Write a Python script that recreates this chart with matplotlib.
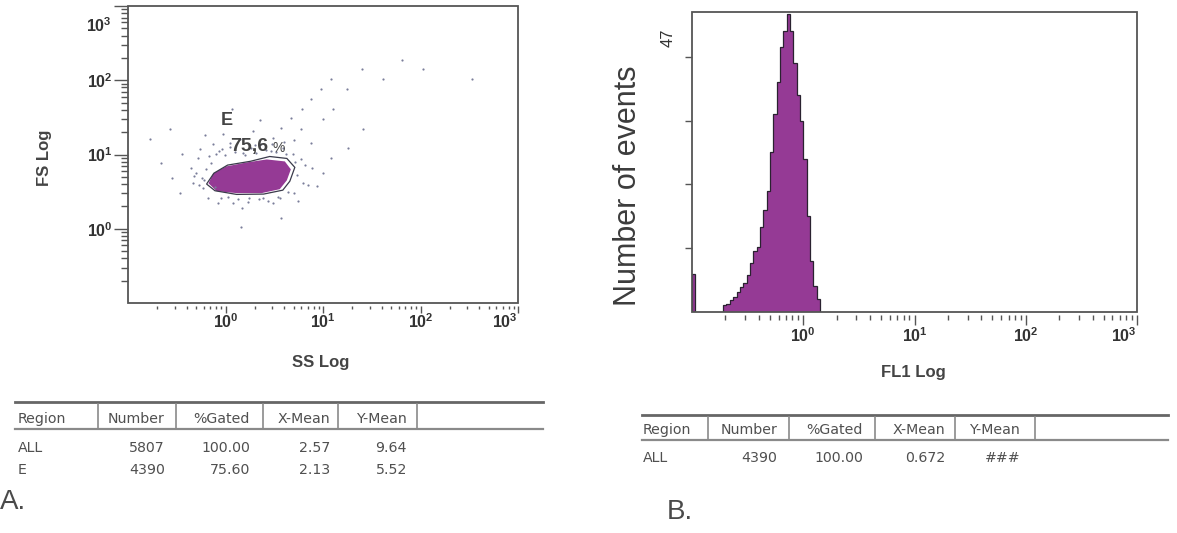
import numpy as np
import matplotlib
matplotlib.use('Agg')
import matplotlib.pyplot as plt
from matplotlib.patches import Polygon, Rectangle
from matplotlib.lines import Line2D
from matplotlib.ticker import FixedLocator, LogLocator, NullFormatter, FuncFormatter

plt.rcParams['font.family'] = ['Liberation Sans', 'DejaVu Sans']
plt.rcParams['mathtext.fontset'] = 'custom'
plt.rcParams['mathtext.rm'] = 'Liberation Sans'
plt.rcParams['mathtext.bf'] = 'Liberation Sans:bold'

# --- panel A: FS vs SS dot plot ---
# sparse events outside the main population (SS, FS)
ss_events = [0.17, 0.22, 0.28, 0.36, 0.34, 0.44, 0.46, 0.50, 0.52, 0.57, 0.59, 0.55,
             0.63, 0.66, 0.71, 0.74, 0.80, 0.83, 0.92, 0.89, 1.12, 1.18, 1.42, 1.50,
             1.47, 1.83, 1.90, 2.30, 2.40, 2.25, 3.05, 2.90, 3.10, 3.70, 3.85, 3.60,
             4.70, 4.95, 5.00, 6.10, 5.90, 6.20, 6.00, 7.60, 7.80, 7.50, 9.60, 9.90,
             10.1, 12.2, 12.6, 12.0, 17.5, 18.0, 25.0, 26.0, 41.0, 64.0, 0.27, 1.16,
             105.0, 340.0, 3.70, 1.45, 0.62, 0.95, 5.60, 8.60,
             0.60, 0.68, 0.78, 0.86, 0.98, 1.05, 1.25, 1.35, 1.60, 1.75, 2.05, 2.20,
             2.60, 2.75, 3.30, 3.45, 4.20, 4.40, 5.20, 5.40, 6.60, 7.00, 0.48, 0.54,
             1.10, 2.00, 3.00, 4.00, 5.00, 1.70]
fs_events = [16.3, 7.6, 4.8, 10.3, 3.0, 6.5, 4.1, 5.6, 8.9, 4.8, 3.5, 12.0,
             6.4, 2.6, 7.7, 14.0, 10.3, 2.2, 12.0, 2.6, 14.5, 2.2, 16.0, 10.5,
             1.9, 12.2, 21.0, 14.0, 2.6, 29.0, 16.5, 11.2, 2.2, 22.5, 12.3, 2.6,
             31.0, 10.3, 3.0, 41.0, 8.8, 4.1, 22.0, 56.0, 6.5, 14.2, 76.0, 5.6,
             30.0, 103.0, 41.0, 8.9, 76.0, 12.3, 140.0, 22.0, 103.0, 190.0, 22.0, 41.0,
             140.0, 103.0, 1.4, 1.05, 18.5, 19.0, 2.4, 3.8,
             4.6, 9.5, 3.6, 11.0, 9.8, 2.7, 10.8, 2.5, 9.9, 2.6, 10.6, 2.5,
             11.5, 2.4, 10.9, 2.7, 10.1, 3.1, 8.0, 5.3, 7.2, 3.9, 5.1, 3.9,
             12.8, 13.5, 13.8, 14.8, 15.5, 2.3]

# dense population E (outline of the filled cloud)
cloud_ss = [0.67, 0.75, 1.02, 1.65, 2.65, 4.06, 4.68, 4.26, 3.60, 2.35, 1.30, 0.81]
cloud_fs = [4.10, 5.58, 6.92, 7.82, 8.58, 8.07, 6.31, 4.50, 3.41, 3.02, 3.02, 3.21]

# gate E
gate_ss = [0.64, 0.76, 1.05, 1.80, 2.84, 4.26, 5.14, 4.57, 3.87, 2.46, 1.30, 0.78]
gate_fs = [4.00, 5.60, 7.20, 8.10, 9.40, 8.85, 6.71, 4.37, 3.31, 2.93, 2.90, 3.25]
gate_name = 'E'
gate_pct = '75,6'

# --- panel B: FL1 histogram ---
fl1_edges = np.logspace(-0.72, 0.15, 30)
fl1_counts = [1.1, 1.2, 1.9, 2.3, 3.1, 3.9, 4.5, 5.8, 7.6, 9.5,
              10.2, 13.3, 16.0, 19.0, 25.0, 31.0, 36.0, 41.5, 44.0, 46.7,
              44.0, 39.0, 34.0, 30.0, 24.0, 15.0, 8.0, 4.0, 2.0]
fl1_low_edges = [0.1, 0.106]
fl1_low_counts = [6.0]
y_max = 47
y_ticks = [10, 20, 30, 40]

# --- statistics tables ---
table_header = ['Region', 'Number', '%Gated', 'X-Mean', 'Y-Mean']
table_a_rows = [['ALL', '5807', '100.00', '2.57', '9.64'],
                ['E', '4390', '75.60', '2.13', '5.52']]
table_b_rows = [['ALL', '4390', '100.00', '0.672', '###']]

W, H = 1177, 533
fig = plt.figure(figsize=(W / 100, H / 100), dpi=100)


def fx(px):
    return px / W


def fy(py):
    return 1 - py / H


axis_col = '#555555'
text_col = '#444444'
fill_col = '#953a95'


def decade_label(v, pos):
    if v < 1:
        return ''
    return r'$\mathbf{10^{%d}}$' % round(np.log10(v))


def setup_log_x(ax, major_len, minor_len, pad):
    ax.set_xscale('log')
    ax.set_xlim(0.1, 1000)
    ax.xaxis.set_major_locator(FixedLocator([1, 10, 100, 1000]))
    ax.xaxis.set_minor_locator(LogLocator(base=10, subs=np.arange(2, 10)))
    ax.xaxis.set_minor_formatter(NullFormatter())
    ax.xaxis.set_major_formatter(FuncFormatter(decade_label))
    ax.tick_params(axis='x', which='major', length=major_len, width=1,
                   color=axis_col, labelsize=11.5, labelcolor='#333333', pad=pad)
    ax.tick_params(axis='x', which='minor', length=minor_len, width=1, color=axis_col)
    for s in ax.spines.values():
        s.set_visible(False)
    ax.spines['bottom'].set_position(('outward', 2.5))
    ax.add_patch(Rectangle((0, 0), 1, 1, transform=ax.transAxes, fill=False,
                           ec=axis_col, lw=1.3, clip_on=False, zorder=5))
    ax.xaxis.get_major_ticks()[-1].label1.set_horizontalalignment('right')


# panel A
ax_a = fig.add_axes([fx(128), fy(303), fx(518) - fx(128), fy(6) - fy(303)])
setup_log_x(ax_a, 5, 2.5, -1)
ax_a.set_yscale('log')
ax_a.set_ylim(0.1, 1000)
ax_a.yaxis.set_major_locator(FixedLocator([1, 10, 100, 1000]))
ax_a.yaxis.set_minor_locator(LogLocator(base=10, subs=np.arange(2, 10)))
ax_a.yaxis.set_minor_formatter(NullFormatter())
ax_a.yaxis.set_major_formatter(FuncFormatter(lambda v, p: decade_label(v, p) if v < 1000 else ''))
ax_a.tick_params(axis='y', which='major', length=10, width=1, color=axis_col,
                 labelsize=11.5, labelcolor='#333333', pad=1)
ax_a.tick_params(axis='y', which='minor', length=5, width=1, color=axis_col)
ax_a.annotate(r'$\mathbf{10^{3}}$', xy=(0, 1000), xycoords=('axes fraction', 'data'),
              xytext=(-12, -14), textcoords='offset points', ha='right', va='center',
              fontsize=11.5, color='#333333')

ax_a.add_patch(Polygon(np.column_stack([cloud_ss, cloud_fs]), closed=True,
                       fc=fill_col, ec='none', zorder=2))
ax_a.add_patch(Polygon(np.column_stack([gate_ss, gate_fs]), closed=True,
                       fill=False, ec='#3a3a4a', lw=0.9, zorder=3))
ax_a.scatter(ss_events, fs_events, s=2.5, color='#7a7e9a', lw=0, zorder=2)

ax_a.text(1.02, 28.8, gate_name, fontsize=13, fontweight='bold', color=text_col,
          ha='center', va='center')
ax_a.text(1.73, 13.0, gate_pct, fontsize=14, fontweight='bold', color=text_col,
          ha='center', va='center')
ax_a.text(3.5, 12.2, '%', fontsize=10, color=text_col, ha='center', va='center')

fig.text(fx(44), fy(158), 'FS Log', rotation=90, fontsize=12, fontweight='bold',
         color=text_col, ha='center', va='center')
fig.text(fx(321), fy(362), 'SS Log', fontsize=12, fontweight='bold',
         color=text_col, ha='center', va='center')

# panel B
ax_b = fig.add_axes([fx(692), fy(312), fx(1137) - fx(692), fy(12) - fy(312)])
setup_log_x(ax_b, 7, 3.5, 1)
ax_b.set_ylim(0, y_max)
ax_b.set_yticks(y_ticks)
ax_b.set_yticklabels([])
ax_b.tick_params(axis='y', length=5, width=1, color=axis_col)

ax_b.stairs(fl1_counts, fl1_edges, fill=True, color=fill_col, zorder=2)
ax_b.stairs(fl1_counts, fl1_edges, baseline=0, color='#2a2230', lw=0.9, zorder=3)
ax_b.stairs(fl1_low_counts, fl1_low_edges, fill=True, color=fill_col, zorder=2)
ax_b.stairs(fl1_low_counts, fl1_low_edges, baseline=0, color='#2a2230', lw=0.9, zorder=3)

fig.text(fx(668), fy(38), str(y_max), rotation=90, fontsize=12, color='#333333',
         ha='center', va='center')
fig.text(fx(628), fy(186), 'Number of events', rotation=90, fontsize=22,
         color='#3c3c3c', ha='center', va='center')
fig.text(fx(913), fy(372), 'FL1 Log', fontsize=12, fontweight='bold',
         color=text_col, ha='center', va='center')


# statistics tables under each plot
def draw_table(x0, x1, y_top, y_mid, seps, rights, region_x, head_y, row_ys, rows):
    fig.add_artist(Line2D([fx(x0), fx(x1)], [fy(y_top), fy(y_top)], color='#666666', lw=2))
    fig.add_artist(Line2D([fx(x0), fx(x1)], [fy(y_mid), fy(y_mid)], color='#8a8a8a', lw=1.6))
    for sx in seps:
        fig.add_artist(Line2D([fx(sx), fx(sx)], [fy(y_top + 2), fy(y_mid)],
                              color='#8a8a8a', lw=1.2))
    kw = dict(fontsize=10.2, color='#505050', va='center', family='DejaVu Sans')
    fig.text(fx(region_x), fy(head_y), table_header[0], ha='left', **kw)
    for name, rx in zip(table_header[1:], rights):
        fig.text(fx(rx), fy(head_y), name, ha='right', **kw)
    for row, ry in zip(rows, row_ys):
        fig.text(fx(region_x), fy(ry), row[0], ha='left', **kw)
        for val, rx in zip(row[1:], rights):
            fig.text(fx(rx), fy(ry), val, ha='right', **kw)


draw_table(15, 543, 402, 429, [98, 176, 263, 338, 417], [165, 250, 330, 407],
           18, 419, [448, 470], table_a_rows)
draw_table(642, 1168, 415, 440, [708, 789, 875, 955, 1035], [777, 863, 945, 1020],
           643, 430, [458], table_b_rows)

fig.text(fx(0), fy(502), 'A.', fontsize=20, color='#4a4a4a', ha='left', va='center')
fig.text(fx(667), fy(512), 'B.', fontsize=20, color='#4a4a4a', ha='left', va='center')

fig.savefig('out.png', dpi=100)
